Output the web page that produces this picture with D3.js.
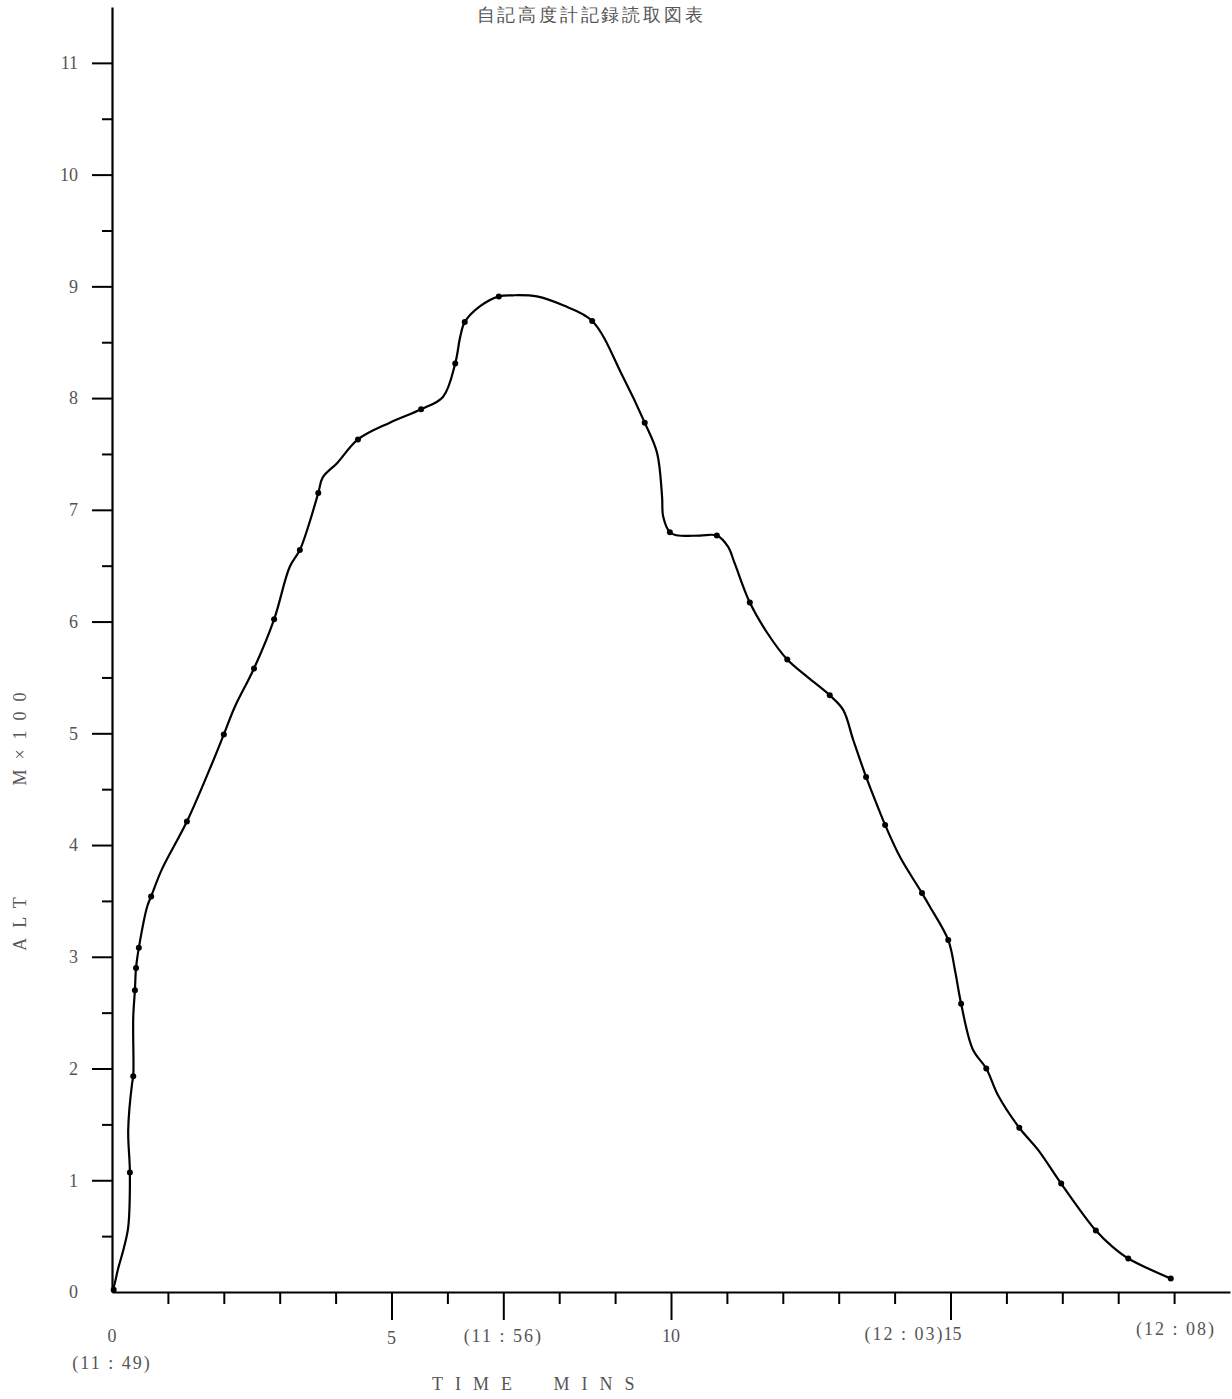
<!DOCTYPE html>
<html>
<head>
<meta charset="utf-8">
<script src="https://cdn.jsdelivr.net/npm/d3@7"></script>
<style>
  body { margin: 0; background: #fff; }
  svg { display: block; }
  .lbl { font-family: "Liberation Serif", "DejaVu Serif", serif; fill: #555; font-size: 17px; }
</style>
</head>
<body>
<svg id="chart" width="1232" height="1399"></svg>
<script>
// altimeter trace, time in minutes after 11:49, altitude in metres
const traceTime = [0, 0.04, 0.11, 0.21, 0.29, 0.32, 0.29, 0.36, 0.38, 0.38, 0.41, 0.43, 0.48, 0.63, 0.70,
  0.89, 1.34, 1.79, 2.00, 2.20, 2.54, 2.90, 3.18, 3.36, 3.51, 3.69, 3.77, 4.03, 4.40, 4.97, 5.53,
  5.92, 6.14, 6.23, 6.31, 6.58, 6.92, 7.17, 7.60, 8.07, 8.59, 9.14, 9.53, 9.75, 9.84, 9.86, 9.98,
  10.13, 10.52, 10.82, 11.02, 11.14, 11.41, 11.72, 12.08, 12.45, 12.84, 13.08, 13.26, 13.49, 13.74,
  13.83, 14.10, 14.49, 14.63, 14.96, 15.08, 15.19, 15.40, 15.64, 15.85, 16.23, 16.57, 16.98, 17.60,
  17.91, 18.18, 18.94];
const traceAlt = [0, 6, 21, 39, 58, 107, 145, 187, 193, 246, 270, 290, 308, 345, 354,
  378, 421, 473, 499, 524, 558, 602, 649, 664, 685, 715, 729, 742, 763, 778, 790,
  801, 831, 855, 868, 882, 891, 892, 891, 883, 869, 819, 778, 751, 712, 694, 680,
  677, 677, 677, 667, 652, 617, 590, 566, 550, 534, 521, 494, 461, 429,
  418, 389, 357, 345, 315, 288, 258, 217, 200, 176, 147, 127, 97, 55,
  40, 30, 12];

// plotted readings (dots)
const readTime = [0.03, 0.32, 0.38, 0.41, 0.43, 0.48, 0.70, 1.34, 2.00, 2.54, 2.90, 3.36, 3.69, 4.40,
  5.53, 6.14, 6.31, 6.92, 8.59, 9.53, 9.98, 10.82, 11.41, 12.08, 12.84, 13.49, 13.83, 14.49, 14.96,
  15.19, 15.64, 16.23, 16.98, 17.60, 18.18, 18.94];
const readAlt = [2, 107, 193, 270, 290, 308, 354, 421, 499, 558, 602, 664, 715, 763,
  790, 831, 868, 891, 869, 778, 680, 677, 617, 566, 534, 461, 418, 357, 315,
  258, 200, 147, 97, 55, 30, 12];

const yTicks = [0, 1, 2, 3, 4, 5, 6, 7, 8, 9, 10, 11];
const xMajor = [5, 7, 10, 15];
const xLabels = [
  { t: 0, text: "0", dy: 0, anchor: "middle", shift: 0 },
  { t: 0, text: "(11 : 49)", dy: 27, anchor: "middle", shift: 0 },
  { t: 5, text: "5", dy: 2, anchor: "middle", shift: 0 },
  { t: 7, text: "(11 : 56)", dy: 0, anchor: "middle", shift: 0 },
  { t: 10, text: "10", dy: 0, anchor: "middle", shift: 0 },
  { t: 15, text: "(12 : 03)", dy: -2, anchor: "end", shift: -6 },
  { t: 15, text: "15", dy: -2, anchor: "middle", shift: 2 },
  { t: 19, text: "(12 : 08)", dy: -7, anchor: "middle", shift: 2 }
];
const title = "自記高度計記録読取図表";

const svg = d3.select("#chart");

const x = d3.scaleLinear().domain([0, 20]).range([112, 1230]);
const y = d3.scaleLinear().domain([0, 1150]).range([1292, 7]);

// y axis: long ticks every 100 m, short ones at 50
const yAxis = svg.append("g")
    .attr("transform", "translate(" + x(0) + ",0)")
    .call(d3.axisLeft(y)
        .tickValues(yTicks.map(d => d * 100))
        .tickSize(20)
        .tickSizeOuter(0)
        .tickPadding(14)
        .tickFormat(d => d / 100));
yAxis.selectAll(".tick").filter(d => d === 0).select("line").remove();

svg.append("g")
    .attr("transform", "translate(" + x(0) + ",0)")
    .call(d3.axisLeft(y)
        .tickValues(yTicks.slice(0, -1).map(d => d * 100 + 50))
        .tickSize(10)
        .tickSizeOuter(0)
        .tickFormat(""))
    .select(".domain").remove();

// x axis: minute ticks, longer ones at marked times
svg.append("g")
    .attr("transform", "translate(0," + y(0) + ")")
    .call(d3.axisBottom(x)
        .tickValues(d3.range(1, 20).filter(d => xMajor.indexOf(d) < 0))
        .tickSize(12)
        .tickSizeOuter(0)
        .tickFormat(""));

svg.append("g")
    .attr("transform", "translate(0," + y(0) + ")")
    .call(d3.axisBottom(x)
        .tickValues(xMajor)
        .tickSize(28)
        .tickSizeOuter(0)
        .tickFormat(""))
    .select(".domain").remove();

svg.selectAll(".domain").attr("stroke", "#000").attr("stroke-width", 2.2);
svg.selectAll(".tick line").attr("stroke", "#000").attr("stroke-width", 2);
svg.selectAll(".tick text")
    .attr("class", "lbl")
    .style("font-family", "'Liberation Serif', 'DejaVu Serif', serif")
    .style("font-size", "18px")
    .attr("fill", "#555");

svg.selectAll("text.xl")
    .data(xLabels)
    .enter()
    .append("text")
    .attr("class", "lbl xl")
    .attr("x", d => x(d.t) + d.shift)
    .attr("y", d => y(0) + 50 + d.dy)
    .attr("text-anchor", d => d.anchor)
    .style("letter-spacing", d => d.text.length > 2 ? "2px" : "0px")
    .style("font-size", "18px")
    .text(d => d.text);

svg.selectAll("text.xt")
    .data([{ x: 472, text: "TIME" }, { x: 594, text: "MINS" }])
    .enter()
    .append("text")
    .attr("class", "lbl xt")
    .attr("x", d => d.x + 6)
    .attr("y", 1390)
    .attr("text-anchor", "middle")
    .style("letter-spacing", "12px")
    .style("font-size", "18px")
    .text(d => d.text);

svg.selectAll("text.yt")
    .data([{ y: 916, text: "ALT" }, { y: 731, text: "M×100" }])
    .enter()
    .append("text")
    .attr("class", "lbl yt")
    .attr("transform", d => "translate(26," + (d.y + 3) + ") rotate(-90)")
    .attr("text-anchor", "middle")
    .style("letter-spacing", "10px")
    .style("font-size", "18px")
    .text(d => d.text);

svg.append("text")
    .attr("class", "lbl")
    .attr("x", 591)
    .attr("y", 21)
    .attr("text-anchor", "middle")
    .style("font-size", "18px")
    .style("letter-spacing", "2.8px")
    .text(title);

// trace
const trace = traceTime.map((t, i) => ({ t: t, a: traceAlt[i] }));
const line = d3.line()
    .x(d => x(d.t))
    .y(d => y(d.a))
    .curve(d3.curveCatmullRom.alpha(0.5));

svg.append("path")
    .datum(trace)
    .attr("fill", "none")
    .attr("stroke", "#000")
    .attr("stroke-width", 2.2)
    .attr("d", line);

svg.selectAll("circle.reading")
    .data(readTime.map((t, i) => ({ t: t, a: readAlt[i] })))
    .enter()
    .append("circle")
    .attr("class", "reading")
    .attr("cx", d => x(d.t))
    .attr("cy", d => y(d.a))
    .attr("r", 3)
    .attr("fill", "#000");
</script>
</body>
</html>
